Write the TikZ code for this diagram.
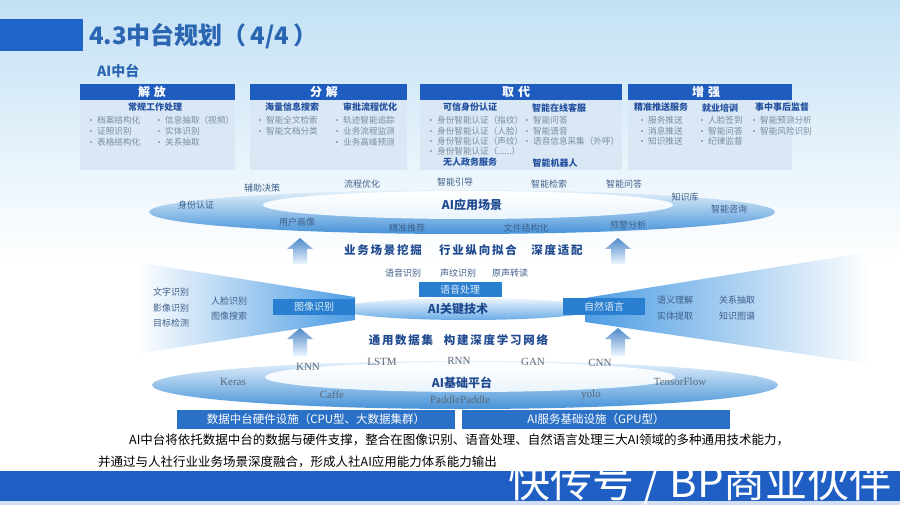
\documentclass[tikz,border=0pt]{standalone}
\usepackage{fontspec}
\setmainfont{Noto Sans CJK SC}
\newfontfamily\serifen{Liberation Serif}
\definecolor{bgtop}{HTML}{C3E1F5}
\definecolor{titlebar}{HTML}{1F64C8}
\definecolor{titletext}{HTML}{2B66B3}
\definecolor{hdrblue}{HTML}{1E5CBF}
\definecolor{boxbg}{HTML}{D9E8F4}
\definecolor{subblue}{HTML}{2450A0}
\definecolor{itemgray}{HTML}{7D8C9C}
\definecolor{labblue}{HTML}{3F5F8A}
\definecolor{labgray}{HTML}{5A6878}
\definecolor{boldblue}{HTML}{1F4A8F}
\definecolor{ringtop}{HTML}{E4F1FB}
\definecolor{ringbot}{HTML}{4592D8}
\definecolor{ringinner}{HTML}{EAF4FC}
\definecolor{wedgeblue}{HTML}{4E9DE3}
\definecolor{techbox}{HTML}{2A7FD0}
\definecolor{basebox}{HTML}{2A70C6}
\definecolor{arrtop}{HTML}{4F8ACB}
\definecolor{arrbot}{HTML}{EEF6FC}
\definecolor{bandblue}{HTML}{1F5FC4}
\newcommand\bitem[4]{\fill[itemgray!70] ({#2-7.5},{#3-1}) rectangle ({#2-5.5},{#3+1});
  \node[item] (#1) at (#2,#3) {#4};}
\newcommand\uparr[3]{\shade[top color=arrtop, bottom color=arrbot]
  ({#1-7},#3) -- ({#1-7},{#2+11}) -- ({#1-13},{#2+11}) -- (#1,#2) --
  ({#1+13},{#2+11}) -- ({#1+7},{#2+11}) -- ({#1+7},#3) -- cycle;}
\begin{document}
\begin{tikzpicture}[x=1pt,y=-1pt,
  hdrtxt/.style={font=\bfseries\fontsize{12}{12}\selectfont, text=white, inner sep=0},
  subh/.style={font=\bfseries\fontsize{9}{9}\selectfont, text=subblue, inner sep=0},
  item/.style={font=\fontsize{8.6}{9}\selectfont, text=itemgray, anchor=west, inner sep=0},
  lab/.style={font=\fontsize{9}{9}\selectfont, text=labblue, inner sep=0},
  slab/.style={font=\serifen\fontsize{11}{11}\selectfont, text=labgray, inner sep=0},
  boldlab/.style={font=\bfseries\fontsize{12}{12}\selectfont, text=boldblue, inner sep=0},
  midtxt/.style={font=\bfseries\fontsize{11.5}{12}\selectfont\addfontfeature{LetterSpace=15}, text=boldblue, inner sep=0},
  techtxt/.style={font=\fontsize{10}{10}\selectfont, text=white!85!techbox, inner sep=0},
  basetxt/.style={font=\fontsize{11.5}{12}\selectfont, text=white, inner sep=0},
  captxt/.style={font=\fontsize{12.5}{13}\selectfont, text=black, anchor=west, inner sep=0}]
\useasboundingbox (0,0) rectangle (900,505);
% background
\shade[top color=bgtop, bottom color=white] (0,0) rectangle (900,262);
\fill[white] (0,262) rectangle (900,505);
% title
\fill[titlebar] (0,19) rectangle (83,51);
\node[anchor=west, inner sep=0, font=\bfseries\fontsize{24}{24}\selectfont, text=titletext] (title) at (89,36) {4.3中台规划（\,4/4\,）};
\node[anchor=west, inner sep=0, font=\bfseries\fontsize{14}{14}\selectfont, text=titletext] (sub) at (97,71) {AI中台};
% top boxes
\fill[boxbg] (80,84) rectangle (235,170); \fill[hdrblue] (80,84) rectangle (235,100);
\fill[boxbg] (250,84) rectangle (407,170); \fill[hdrblue] (250,84) rectangle (407,100);
\fill[boxbg] (420,84) rectangle (622,170); \fill[hdrblue] (420,84) rectangle (622,100);
\fill[boxbg] (628,84) rectangle (792,170); \fill[hdrblue] (628,84) rectangle (792,100);
\node[hdrtxt] (h1) at (152,92) {解\,\,放};
\node[hdrtxt] (h2) at (324,92) {分\,\,解};
\node[hdrtxt] (h3) at (516,92) {取\,\,代};
\node[hdrtxt] (h4) at (706,92) {增\,\,强};
% box 1
\node[subh] (s11) at (155,107) {常规工作处理};
\bitem{a1}{97}{120}{档案结构化}
\bitem{a2}{97}{131}{证照识别}
\bitem{a3}{97}{142}{表格结构化}
\bitem{a4}{165}{120}{信息抽取（视频）}
\bitem{a5}{165}{131}{实体识别}
\bitem{a6}{165}{142}{关系抽取}
% box 2
\node[subh] (s21) at (292,107) {海量信息搜索};
\node[subh] (s22) at (370,107) {审批流程优化};
\bitem{b1}{266}{120}{智能全文检索}
\bitem{b2}{266}{131}{智能文档分类}
\bitem{b3}{343}{120}{轨迹智能追踪}
\bitem{b4}{343}{131}{业务流程监测}
\bitem{b5}{343}{142}{业务高峰预测}
% box 3
\node[subh] (s31) at (470,107) {可信身份认证};
\node[subh] (s32) at (559,108) {智能在线客服};
\bitem{c1}{437}{120}{身份智能认证（指纹）}
\bitem{c2}{437}{131}{身份智能认证（人脸）}
\bitem{c3}{437}{141}{身份智能认证（声纹）}
\bitem{c4}{437}{151}{身份智能认证（......）}
\bitem{c5}{533}{120}{智能问答}
\bitem{c6}{533}{131}{智能语音}
\bitem{c7}{533}{141}{语音信息采集（外呼）}
\node[subh] (s33) at (470,162) {无人政务服务};
\node[subh] (s34) at (555,163) {智能机器人};
% box 4
\node[subh] (s41) at (661,107) {精准推送服务};
\node[subh] (s42) at (720,108) {就业培训};
\node[subh] (s43) at (782,107) {事中事后监督};
\bitem{d1}{648}{120}{服务推送}
\bitem{d2}{648}{131}{消息推送}
\bitem{d3}{648}{141}{知识推送}
\bitem{d4}{708}{120}{人脸签到}
\bitem{d5}{708}{131}{智能问答}
\bitem{d6}{708}{141}{纪律监督}
\bitem{d7}{760}{120}{智能预测分析}
\bitem{d8}{760}{131}{智能风险识别}
% AI application ring
\shade[top color=ringtop, bottom color=ringbot] (462,212) ellipse [x radius=313pt, y radius=22pt];
\shade[top color=white, bottom color=ringinner] (468,205) ellipse [x radius=205pt, y radius=14pt];
\node[lab] (r1) at (262,188) {辅助决策};
\node[lab] (r2) at (362,184) {流程优化};
\node[lab] (r3) at (455,182) {智能引导};
\node[lab] (r4) at (549,184) {智能检索};
\node[lab] (r5) at (624,184) {智能问答};
\node[lab] (r6) at (685,197) {知识库};
\node[lab] (r7) at (729,209) {智能咨询};
\node[lab] (r8) at (196,205) {身份认证};
\node[boldlab] (r9) at (472,205) {AI应用场景};
\node[lab] (r10) at (297,222) {用户画像};
\node[lab] (r11) at (407,228) {精准推荐};
\node[lab] (r12) at (526,228) {文件结构化};
\node[lab] (r13) at (628,225) {预警分析};
% key tech wedges
\shade[left color=white, right color=wedgeblue] (135,262) -- (355,297) -- (355,320) -- (135,354) -- cycle;
\shade[left color=wedgeblue, right color=white] (585,298) -- (870,252) -- (870,364) -- (585,322) -- cycle;
\shade[top color=white!90!wedgeblue, bottom color=wedgeblue!85] (468,309) ellipse [x radius=128pt, y radius=11pt];
% upper arrows and text
\uparr{300}{238}{264}
\uparr{618}{238}{264}
\node[midtxt] (m1) at (383,250) {业务场景挖掘};
\node[midtxt] (m2) at (478,250) {行业纵向拟合};
\node[midtxt] (m3) at (557,250) {深度适配};
% key tech boxes
\fill[techbox] (419,282) rectangle (502,297);
\fill[techbox] (273,299) rectangle (355,315);
\fill[techbox] (563,298) rectangle (645,315);
\node[techtxt] (t1) at (460,289.5) {语音处理};
\node[techtxt] (t2) at (314,307) {图像识别};
\node[techtxt] (t3) at (604,306.5) {自然语言};
\node[boldlab] (t4) at (458,309) {AI关键技术};
\node[lab] (k1) at (403,273) {语音识别};
\node[lab] (k2) at (458,273) {声纹识别};
\node[lab] (k3) at (510,273) {原声转读};
\node[lab] (k4) at (171,292) {文字识别};
\node[lab] (k5) at (171,308) {影像识别};
\node[lab] (k6) at (171,323) {目标检测};
\node[lab] (k7) at (229,301) {人脸识别};
\node[lab] (k8) at (229,316) {图像搜索};
\node[lab] (k9) at (675,300) {语义理解};
\node[lab] (k10) at (675,316) {实体提取};
\node[lab] (k11) at (737,300) {关系抽取};
\node[lab] (k12) at (737,316) {知识图谱};
% lower arrows and text
\uparr{300}{328}{356}
\uparr{618}{328}{356}
\node[midtxt] (n1) at (401,340) {通用数据集};
\node[midtxt] (n2) at (496,340) {构建深度学习网络};
% base platform ring
\shade[top color=ringtop, bottom color=ringbot] (465,385) ellipse [x radius=313pt, y radius=24pt];
\shade[top color=white, bottom color=ringinner] (470,377) ellipse [x radius=205pt, y radius=15pt];
\node[slab] (p1) at (308,367) {KNN};
\node[slab] (p2) at (382,362) {LSTM};
\node[slab] (p3) at (459,361) {RNN};
\node[slab] (p4) at (533,362) {GAN};
\node[slab] (p5) at (600,363) {CNN};
\node[slab] (p6) at (233,382) {Keras};
\node[boldlab] (p7) at (462,383) {AI基础平台};
\node[slab] (p8) at (680,382) {TensorFlow};
\node[slab] (p9) at (332,395) {Caffe};
\node[slab] (p10) at (460,400) {PaddlePaddle};
\node[slab] (p11) at (591,395) {yolo};
% base boxes
\fill[basebox] (177,410) rectangle (455,429);
\fill[basebox] (462,410) rectangle (730,429);
\node[basetxt] (q1) at (316,419.5) {数据中台硬件设施（CPU型、大数据集群）};
\node[basetxt] (q2) at (596,419.5) {AI服务基础设施（GPU型）};
% caption
\node[captxt] (cap1) at (129,440) {AI中台将依托数据中台的数据与硬件支撑，整合在图像识别、语音处理、自然语言处理三大AI领域的多种通用技术能力，};
\node[captxt] (cap2) at (98,462) {并通过与人社行业业务场景深度融合，形成人社AI应用能力体系能力输出};
% bottom band
\fill[bandblue] (0,471) rectangle (900,501);
\fill[bandblue!20] (0,501) rectangle (900,505);
\node[inner sep=0, font=\fontsize{42}{42}\selectfont, text=white, anchor=east] (wm) at (892,484) {快传号 / BP商业伙伴};
\end{tikzpicture}
\end{document}
